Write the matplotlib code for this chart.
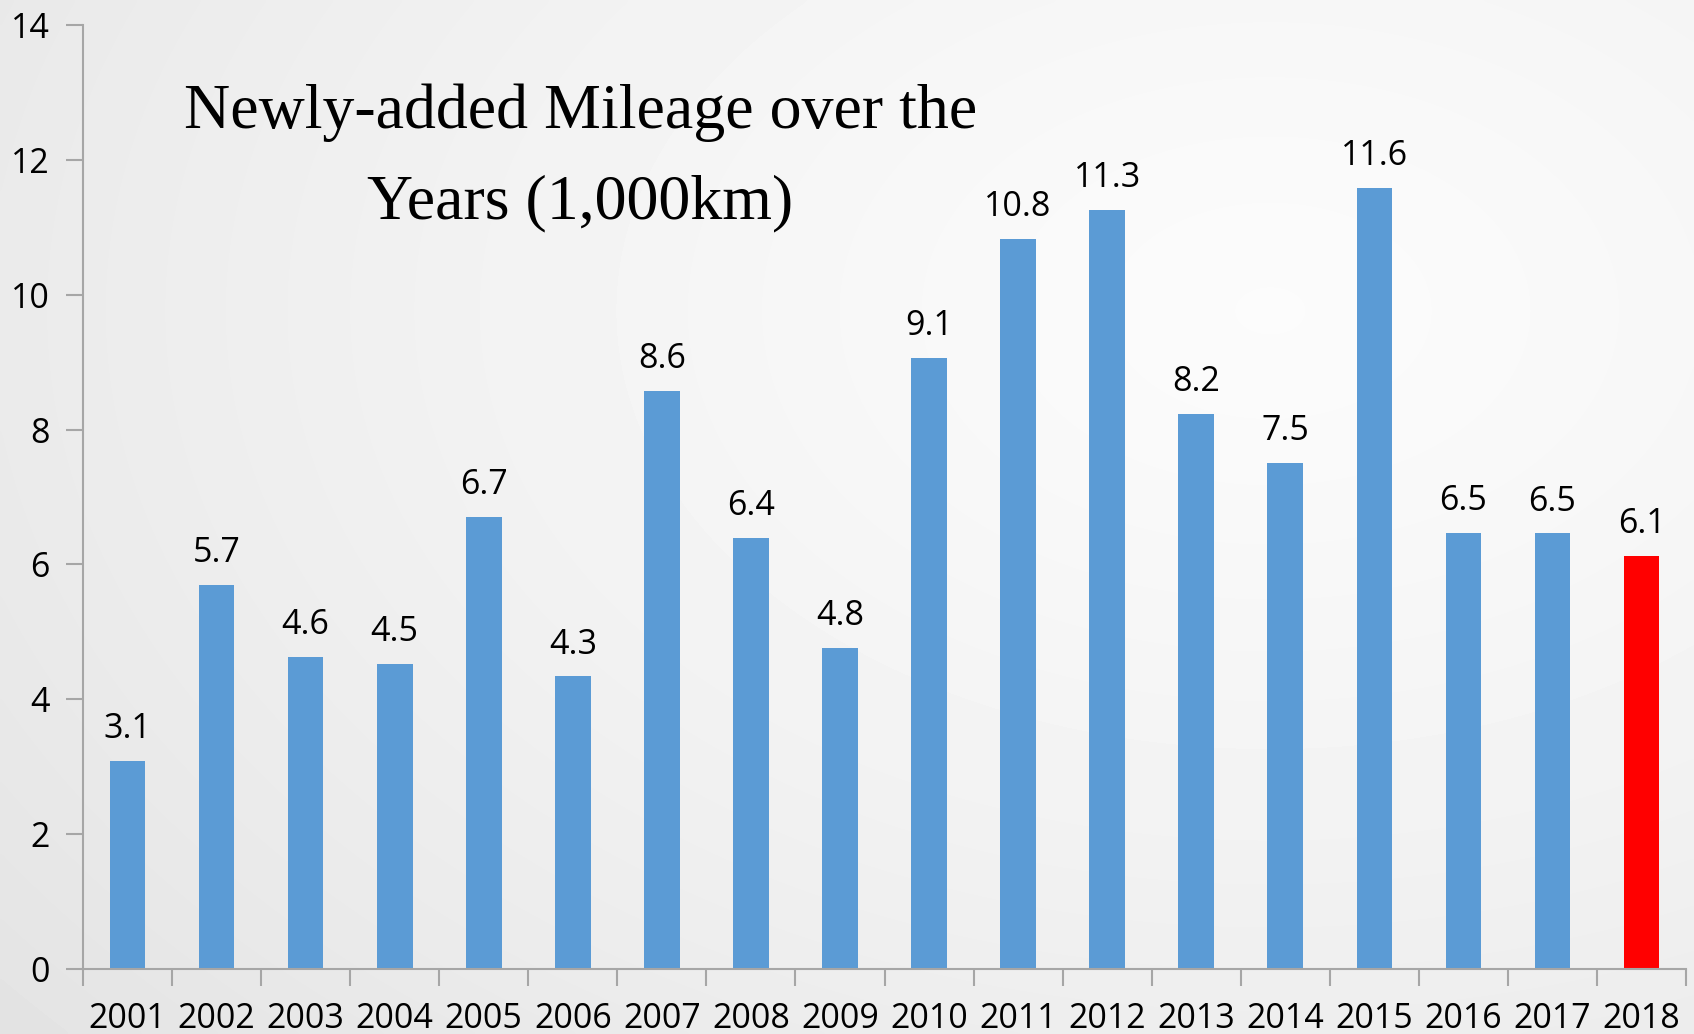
import numpy as np
import matplotlib.pyplot as plt

years = ['2001', '2002', '2003', '2004', '2005', '2006', '2007', '2008', '2009',
         '2010', '2011', '2012', '2013', '2014', '2015', '2016', '2017', '2018']
mileage = [3.09, 5.69, 4.63, 4.53, 6.71, 4.34, 8.57, 6.39, 4.76,
           9.06, 10.83, 11.26, 8.23, 7.50, 11.58, 6.47, 6.46, 6.13]
title = 'Newly-added Mileage over the\nYears (1,000km)'

plt.rcParams['font.family'] = ['Open Sans', 'DejaVu Sans']

fig = plt.figure(figsize=(16.94, 10.34), dpi=100)

# soft radial grey background like the slide
bg = fig.add_axes([0, 0, 1, 1], zorder=-10)
yy, xx = np.mgrid[0:1:300j, 0:1:500j]
r = np.sqrt(((xx - 0.75) * 1.1) ** 2 + ((yy - 0.3) * 1.0) ** 2)
shade = 0.985 - 0.085 * np.clip(r, 0, 1.1) ** 1.3
bg.imshow(shade, cmap='gray', vmin=0, vmax=1, extent=[0, 1, 0, 1],
          aspect='auto', interpolation='bicubic')
bg.axis('off')

ax = fig.add_axes([0.049, 0.0629, 0.9463, 0.9129])
ax.patch.set_alpha(0)

x = np.arange(len(years))
colors = ['#5B9BD5'] * (len(years) - 1) + ['#FF0000']
ax.bar(x, mileage, width=0.4, color=colors, zorder=2)

for xi, v in zip(x, mileage):
    ax.text(xi, v + 0.22, f'{v:.1f}', ha='center', va='bottom', fontsize=24.5)

ax.set_xlim(-0.5, len(years) - 0.5)
ax.set_ylim(0, 14)
ax.set_yticks(np.arange(0, 15, 2))
ax.set_xticks(x)
ax.set_xticklabels(years)
ax.set_xticks(np.arange(-0.5, len(years), 1), minor=True)
ax.tick_params(axis='x', which='major', length=0, labelsize=24.5, pad=24)
ax.tick_params(axis='x', which='minor', length=12, color='#A6A6A6', width=1.5)
ax.tick_params(axis='y', length=12, color='#A6A6A6', width=1.5, labelsize=24.5, pad=12)

for s in ['top', 'right']:
    ax.spines[s].set_visible(False)
for s in ['left', 'bottom']:
    ax.spines[s].set_color('#A6A6A6')
    ax.spines[s].set_linewidth(1.5)

fig.text(0.3425, 0.847, title, ha='center', va='center', fontsize=46,
         family='Liberation Serif', linespacing=1.75)

fig.savefig('out.png', dpi=100)
